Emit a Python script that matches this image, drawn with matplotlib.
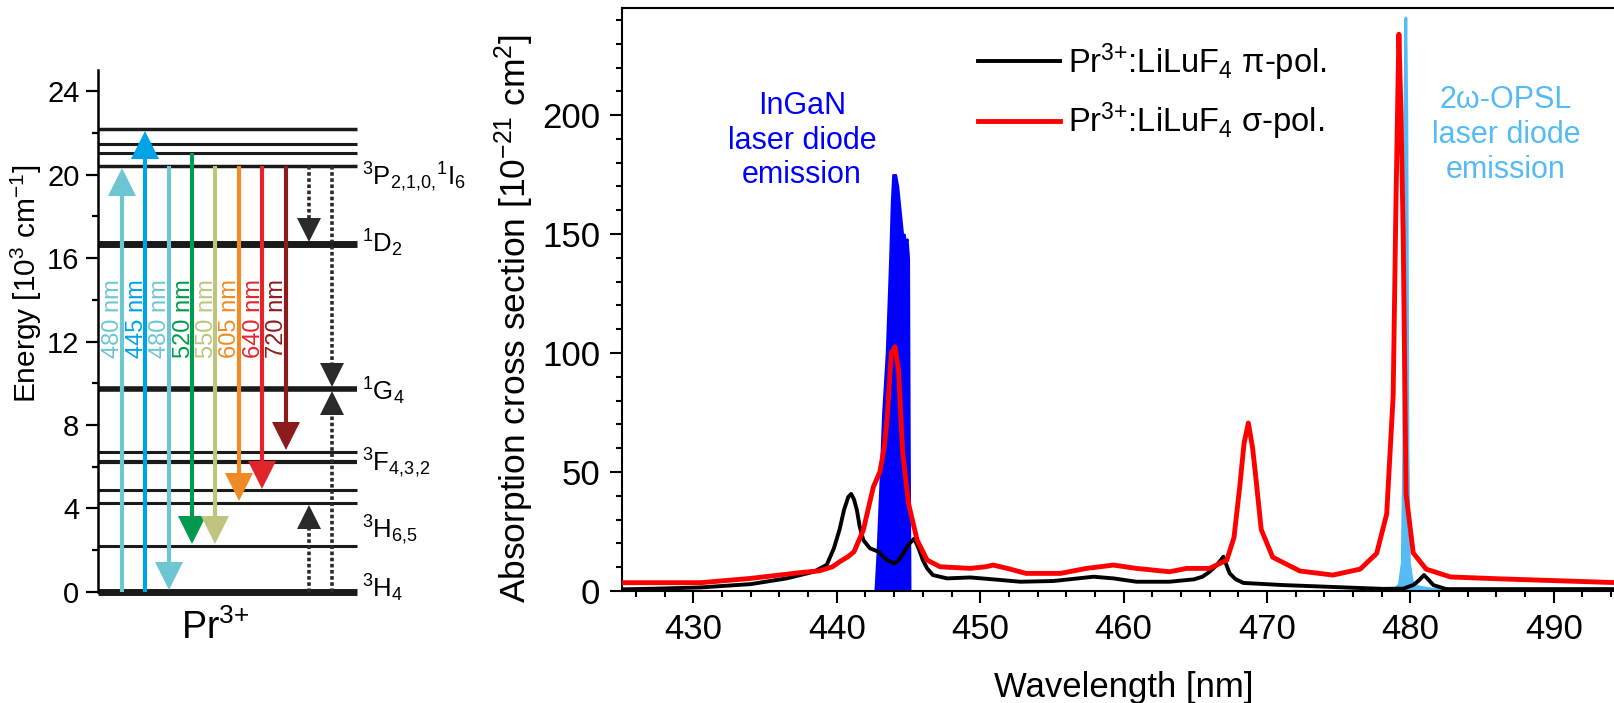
import numpy as np
import matplotlib
matplotlib.use('Agg')
import matplotlib.pyplot as plt

plt.rcParams['font.family'] = ['Liberation Sans', 'DejaVu Sans']
plt.rcParams['mathtext.fontset'] = 'custom'
plt.rcParams['mathtext.rm'] = 'Liberation Sans'
plt.rcParams['mathtext.it'] = 'Liberation Sans:italic'
plt.rcParams['mathtext.bf'] = 'Liberation Sans:bold'

# ---- energy level diagram data (10^3 cm^-1) ----
levels = [0.0, 2.21, 4.27, 4.86, 6.24, 6.71, 9.72, 16.68, 20.42, 21.06, 21.46, 22.19]
level_names = ['$^3$H$_4$', '$^3$H$_{6{,}5}$', '$^3$F$_{4{,}3{,}2}$', '$^1$G$_4$', '$^1$D$_2$',
               '$^3$P$_{2{,}1{,}0{,}}$$^1$I$_6$']
trans_labels = ['480 nm', '445 nm', '480 nm', '520 nm', '550 nm', '605 nm', '640 nm', '720 nm']
trans_start = [0.0, 0.0, 20.42, 21.06, 20.42, 20.42, 20.42, 20.42]
trans_end = [20.42, 22.19, 0.0, 2.21, 2.21, 4.27, 4.86, 6.71]
# non radiative / ESA steps (dotted)
nr_start = [20.42, 0.0, 20.42, 0.0]
nr_end = [16.68, 4.27, 9.72, 9.72]

# ---- absorption spectra ----
wl_pi = [425.0, 427.5, 430.5, 434.0, 436.5, 438.4, 439.3, 439.8, 440.2, 440.5, 440.8, 441.0,
         441.2, 441.4, 441.6, 441.85, 442.3, 442.9, 443.5, 444.0, 444.3, 444.64, 445.0, 445.4,
         445.7, 446.0, 446.3, 446.7, 447.7, 449.3, 450.9, 452.8, 455.1, 457.9, 459.3, 460.9,
         463.2, 464.9, 465.5, 466.0, 466.5, 466.96, 467.2, 467.4, 467.8, 468.35, 471.1, 474.6,
         478.1, 479.5, 480.2, 480.6, 480.95, 481.3, 481.6, 482.5, 495.0]
abs_pi = [0.7, 1.0, 1.5, 2.9, 5.3, 8.1, 11.0, 18.0, 26.0, 34.0, 39.5, 40.8,
          38.5, 34.0, 27.0, 21.4, 18.0, 16.5, 13.0, 11.6, 12.8, 15.8, 19.5, 22.0,
          18.0, 13.0, 9.5, 6.7, 5.3, 5.7, 4.9, 3.9, 4.2, 6.0, 5.3, 3.9,
          3.9, 4.9, 6.0, 8.1, 10.9, 14.4, 10.5, 7.4, 5.0, 3.4, 2.5, 1.7,
          0.9, 1.0, 2.5, 4.5, 6.7, 4.5, 2.5, 0.8, 0.8]

wl_sigma = [425.0, 430.5, 434.0, 437.4, 438.8, 439.7, 440.2, 440.8, 441.2, 441.85, 442.55,
            443.0, 443.3, 443.5, 443.8, 444.06, 444.3, 444.6, 445.0, 445.6, 446.3, 447.2,
            449.3, 450.4, 450.9, 451.9, 453.2, 455.6, 457.4, 459.3, 460.9, 463.2, 464.4,
            466.0, 467.2, 467.7, 468.1, 468.4, 468.7, 469.0, 469.2, 469.6, 470.4, 472.3,
            474.6, 476.5, 477.65, 478.35, 478.8, 479.0, 479.2, 479.35, 479.5, 479.7, 480.2,
            481.1, 482.8, 486.3, 495.0]
abs_sigma = [3.5, 3.5, 5.3, 7.7, 8.5, 10.2, 12.3, 14.5, 16.5, 25.6, 43.8,
             50.0, 60.0, 71.8, 99.9, 102.7, 92.9, 57.8, 36.8, 21.4, 13.0, 10.2,
             9.5, 10.2, 10.9, 9.5, 7.4, 7.4, 9.5, 10.9, 9.5, 8.1, 9.5,
             9.5, 13.0, 22.5, 43.8, 62.0, 70.6, 60.0, 49.0, 25.8, 14.2, 8.4,
             6.7, 9.2, 15.8, 32.4, 82.0, 165.0, 234.0, 200.0, 149.0, 40.7, 16.0,
             9.2, 5.9, 5.1, 3.4]

wl_ingan = [439.0, 442.66, 442.8, 443.0, 443.2, 443.45, 443.6, 443.7, 443.8, 443.9, 444.1,
            444.25, 444.4, 444.5, 444.6, 444.7, 444.8, 444.9, 445.0, 445.05, 445.1, 449.1]
em_ingan = [0, 0, 15, 44, 75, 100, 125, 142, 163, 175, 175,
            170, 161, 155, 149, 150, 146, 148, 140, 60, 0, 0]

wl_opsl = [477.0, 478.8, 479.2, 479.4, 479.5, 479.58, 479.65, 479.72, 479.8, 479.9, 480.1,
           480.5, 481.5, 483.2]
em_opsl = [0, 0.5, 3, 12, 60, 200, 241, 200, 60, 12, 4, 2, 1, 0]

fig = plt.figure(figsize=(16.14, 7.03), dpi=100)

# ================= left: level scheme =================
ax1 = fig.add_axes([0.0609, 0.1583, 0.1603, 0.7415])
ax1.set_xlim(0, 11.05)
ax1.set_ylim(0, 25)
level_lw = [5, 2.2, 2.2, 2.2, 3, 2.2, 4, 5, 2.5, 2.2, 2.2, 2.5]
for e, w in zip(levels, level_lw):
    ax1.plot([0, 11.05], [e, e], color='#1a1a1a', lw=w, clip_on=False, zorder=2,
             solid_capstyle='butt')

px_per_unit = 0.7415 * 703 / 25.0
colors = ['#6EC6D3', '#00A3E6', '#6EC6D3', '#00994D', '#BFC47E', '#F08A24', '#E2242B', '#8C1C1C']
head_ms = 19.5
head_u = head_ms * 100 / 72 / px_per_unit
gap = 0.1
for k, (lab, e0, e1, c) in enumerate(zip(trans_labels, trans_start, trans_end, colors), start=1):
    d = np.sign(e1 - e0)
    tip = e1 - d * gap
    base = tip - d * head_u
    ax1.plot([k, k], [e0, base + d * 0.05], color=c, lw=3, solid_capstyle='butt', zorder=3)
    ax1.plot(k, tip - d * head_u / 2, marker='^' if d > 0 else 'v', ms=head_ms, color=c,
             mew=0, zorder=4, clip_on=False)
    ax1.text(k - 0.36, 13.1, lab, rotation=90, ha='center', va='center', color=c,
             fontsize=17, zorder=5)

dark = '#2a2a2a'
dk_ms = 17
dk_u = dk_ms * 100 / 72 / px_per_unit
nr_cols = [9, 9, 10, 10]
for k, e0, e1 in zip(nr_cols, nr_start, nr_end):
    d = np.sign(e1 - e0)
    tip = e1 - d * 0.12
    ax1.plot([k, k], [e0, tip - d * dk_u], color=dark, lw=2.6, ls=(0, (1.0, 0.7)), zorder=3)
    ax1.plot(k, tip - d * dk_u / 2, marker='^' if d > 0 else 'v', ms=dk_ms, color=dark,
             mew=0, zorder=4)

label_y = [0.18, 2.96, 6.17, 9.59, 16.72, 19.9]
for name, y in zip(level_names, label_y):
    ax1.text(11.27, y, name, fontsize=18.5, ha='left', va='center', clip_on=False)

ax1.text(4.99, -1.75, 'Pr$^{3{+}}$', fontsize=27, ha='center', va='center', clip_on=False)

for s in ['top', 'right', 'bottom']:
    ax1.spines[s].set_visible(False)
ax1.spines['left'].set_linewidth(1.8)
ax1.set_xticks([])
ax1.set_yticks(np.arange(0, 25, 4))
ax1.set_yticks(np.arange(2, 25, 4), minor=True)
ax1.tick_params(axis='y', which='major', length=8.6, width=1.6, labelsize=21, pad=5)
ax1.tick_params(axis='y', which='minor', length=4.3, width=1.6)
ax1.set_ylabel('Energy [10$^3$ cm$^{-1}$]', fontsize=21.5)
ax1.yaxis.set_label_coords(-0.21, 0.59)

# ================= right: absorption spectra =================
ax2 = fig.add_axes([0.3852, 0.1593, 0.6219, 0.8293])
ax2.fill_between(wl_ingan, em_ingan, color='#0000FF', lw=1.5, zorder=2)
ax2.fill_between(wl_opsl, em_opsl, color='#55BBF5', lw=2, zorder=2)
ax2.plot(wl_pi, abs_pi, color='black', lw=2.8, zorder=3,
         label='Pr$^{3{+}}$:LiLuF$_4$ \u03c0-pol.')
ax2.plot(wl_sigma, abs_sigma, color='#FF0000', lw=3.5, zorder=3,
         label='Pr$^{3{+}}$:LiLuF$_4$ \u03c3-pol.')

ax2.text(437.57, 189.3, 'InGaN\nlaser diode\nemission', color='#0000FF', fontsize=22,
         ha='center', va='center', multialignment='center')
ax2.text(486.67, 191.6, '2\u03c9-OPSL\nlaser diode\nemission', color='#55BBF5', fontsize=22,
         ha='center', va='center', multialignment='center')

ax2.set_xlim(425, 495)
ax2.set_ylim(0, 245)
ax2.set_xticks(np.arange(430, 495, 10))
ax2.set_xticks(np.arange(426, 495, 2), minor=True)
ax2.set_yticks(np.arange(0, 201, 50))
ax2.set_yticks(np.arange(0, 245, 10), minor=True)
ax2.tick_params(which='major', length=8.6, width=1.5, labelsize=25, pad=7)
ax2.tick_params(which='minor', length=4.3, width=1.5)
for s in ax2.spines.values():
    s.set_linewidth(1.5)
ax2.set_xlabel('Wavelength [nm]', fontsize=25, labelpad=18)
ax2.set_ylabel('Absorption cross section [10$^{-21}$ cm$^2$]', fontsize=25.5)
ax2.yaxis.set_label_coords(-0.085, 0.468)

ax2.legend(loc='upper left', bbox_to_anchor=(0.355, 0.943), frameon=False, fontsize=23.5,
           handlelength=2.5, handletextpad=0.25, labelspacing=0.55, borderpad=0,
           borderaxespad=0)

fig.savefig('out.png', dpi=100)
